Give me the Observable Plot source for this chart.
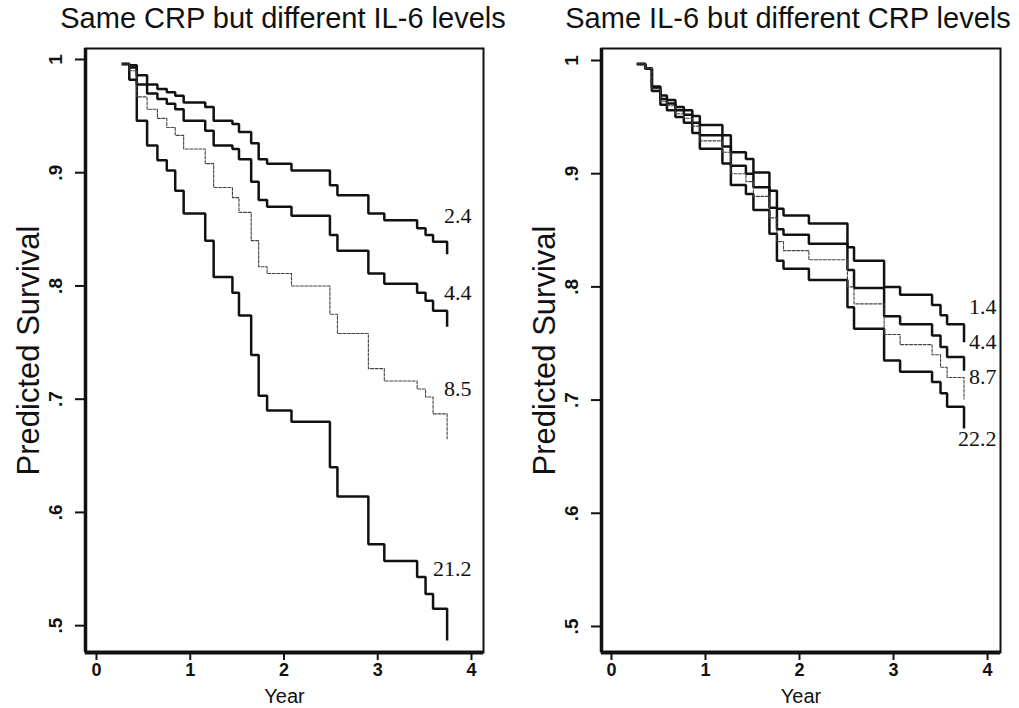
<!DOCTYPE html>
<html><head><meta charset="utf-8">
<script src="https://cdn.jsdelivr.net/npm/d3@7"></script>
<script src="https://cdn.jsdelivr.net/npm/@observablehq/plot@0.6"></script>
<style>
html,body{margin:0;padding:0;background:#fff;}
#wrap{position:relative;width:1019px;height:708px;overflow:hidden;background:#fff;font-family:"Liberation Sans",Arial,sans-serif;}
.title{position:absolute;top:0;font-size:29px;line-height:36px;white-space:nowrap;transform:translateX(-50%);color:#111;}
.panel{position:absolute;top:36px;}
</style></head><body>
<div id="wrap">
  <div class="title" id="t1" style="left:283px"></div>
  <div class="title" id="t2" style="left:788px"></div>
  <div class="panel" id="p1" style="left:0px"></div>
  <div class="panel" id="p2" style="left:510px"></div>
</div>
<script>
// ---- data ----
const leftTitle = "Same CRP but different IL-6 levels";
const rightTitle = "Same IL-6 but different CRP levels";
const xLabel = "Year";
const yLabel = "Predicted Survival";
const xTicks = [0, 1, 2, 3, 4];
const yTicks = [0.5, 0.6, 0.7, 0.8, 0.9, 1];
const yTickLabels = [".5", ".6", ".7", ".8", ".9", "1"];

// left panel: same CRP, IL-6 levels
const leftTimes = [0.27, 0.35, 0.43, 0.54, 0.65, 0.75, 0.84, 0.93, 1.16, 1.25, 1.45, 1.52, 1.65, 1.73, 1.82, 2.08, 2.49, 2.57, 2.90, 3.07, 3.42, 3.51, 3.59, 3.74];
const il6_24  = [0.996, 0.995, 0.986, 0.978, 0.974, 0.971, 0.968, 0.962, 0.958, 0.946, 0.943, 0.936, 0.926, 0.912, 0.908, 0.902, 0.889, 0.880, 0.864, 0.858, 0.851, 0.845, 0.839, 0.828];
const il6_44  = [0.996, 0.993, 0.978, 0.970, 0.965, 0.961, 0.956, 0.946, 0.937, 0.924, 0.921, 0.912, 0.892, 0.876, 0.870, 0.862, 0.845, 0.831, 0.811, 0.802, 0.794, 0.787, 0.778, 0.764];
const il6_85  = [0.996, 0.990, 0.967, 0.956, 0.948, 0.940, 0.933, 0.921, 0.908, 0.887, 0.878, 0.865, 0.840, 0.817, 0.811, 0.800, 0.775, 0.758, 0.727, 0.716, 0.709, 0.702, 0.687, 0.665];
const il6_212 = [0.996, 0.982, 0.946, 0.924, 0.911, 0.902, 0.884, 0.864, 0.840, 0.808, 0.794, 0.774, 0.739, 0.703, 0.690, 0.680, 0.640, 0.614, 0.572, 0.557, 0.543, 0.528, 0.515, 0.487];
const leftLabels = ["2.4", "4.4", "8.5", "21.2"];

// right panel: same IL-6, CRP levels
const rightTimes = [0.27, 0.36, 0.43, 0.52, 0.59, 0.68, 0.77, 0.86, 0.94, 1.18, 1.27, 1.43, 1.51, 1.68, 1.76, 1.83, 2.10, 2.51, 2.58, 2.90, 3.07, 3.41, 3.50, 3.57, 3.75];
const crp_14  = [0.997, 0.993, 0.977, 0.969, 0.965, 0.959, 0.956, 0.951, 0.943, 0.934, 0.919, 0.913, 0.901, 0.885, 0.869, 0.863, 0.856, 0.835, 0.823, 0.800, 0.793, 0.784, 0.775, 0.767, 0.751];
const crp_44  = [0.997, 0.993, 0.976, 0.966, 0.962, 0.956, 0.952, 0.945, 0.934, 0.924, 0.907, 0.900, 0.888, 0.870, 0.851, 0.846, 0.838, 0.815, 0.799, 0.774, 0.767, 0.757, 0.747, 0.738, 0.726];
const crp_87  = [0.997, 0.993, 0.975, 0.964, 0.960, 0.953, 0.949, 0.942, 0.929, 0.919, 0.900, 0.893, 0.880, 0.861, 0.840, 0.832, 0.824, 0.800, 0.785, 0.758, 0.749, 0.740, 0.729, 0.720, 0.701];
const crp_222 = [0.997, 0.993, 0.973, 0.961, 0.956, 0.950, 0.945, 0.936, 0.922, 0.909, 0.890, 0.882, 0.868, 0.847, 0.823, 0.816, 0.806, 0.782, 0.763, 0.735, 0.725, 0.716, 0.706, 0.694, 0.675];
const rightLabels = ["1.4", "4.4", "8.7", "22.2"];

// ---- drawing ----
const sans = "Liberation Sans, Arial, Helvetica, sans-serif";
function panel(o) {
  const rows = [];
  o.series.forEach((vals, k) => vals.forEach((v, i) => rows.push({t: o.times[i], s: v, key: o.labels[k], thin: o.thin[k]})));
  const ends = o.series.map((vals, k) => ({key: o.labels[k], s: vals[vals.length - 2]}));
  return Plot.plot({
    width: o.width, height: 672,
    marginLeft: o.ml, marginRight: o.mr, marginTop: 12, marginBottom: 56,
    x: {domain: o.xDomain},
    y: {domain: o.yDomain},
    style: {fontFamily: sans, color: "#111", background: "transparent"},
    marks: [
      Plot.line(rows.filter(d => !d.thin), {x: "t", y: "s", z: "key", curve: "step-after", stroke: "#111", strokeWidth: 2.5, strokeLinejoin: "miter", strokeLinecap: "butt"}),
      Plot.line(rows.filter(d => d.thin), {x: "t", y: "s", z: "key", curve: "step-after", stroke: "#444", strokeWidth: 1.1, strokeDasharray: "3 1.5"}),
      ...ends.map((e, i) => Plot.text([e], {y: "s", text: "key", frameAnchor: "right", textAnchor: "end", lineAnchor: "middle", dx: o.labelDx, dy: o.labelDy[i], fontFamily: "Liberation Serif, Times New Roman, serif", fontSize: 22, fill: "#111"})),
      Plot.frame({stroke: "#111", strokeWidth: 2}),
      Plot.ruleX([o.xDomain[0]], {stroke: "#111", strokeWidth: 3.5}),
      Plot.ruleY([o.yDomain[0]], {stroke: "#111", strokeWidth: 4}),
      Plot.axisX({ticks: xTicks, tickSize: 8, tickPadding: 3, tickFormat: d => String(d), fontSize: 18, fontWeight: "bold", strokeWidth: 2, label: null}),
      Plot.axisY({ticks: yTicks, tickSize: 10, tickFormat: () => "", strokeWidth: 2, label: null}),
      Plot.text(yTicks, {y: d => d, text: (d, i) => yTickLabels[i], frameAnchor: "left", dx: -30, rotate: -90, textAnchor: "middle", lineAnchor: "middle", fontSize: 19, fontWeight: "bold", fill: "#111"}),
      Plot.text([xLabel], {text: d => d, frameAnchor: "bottom", dy: 44.5, textAnchor: "middle", lineAnchor: "middle", fontSize: 20, fill: "#111"}),
      Plot.text([yLabel], {text: d => d, frameAnchor: "left", dx: -56, rotate: -90, textAnchor: "middle", lineAnchor: "middle", fontSize: 31, fill: "#111"})
    ]
  });
}

document.getElementById("t1").textContent = leftTitle;
document.getElementById("t2").textContent = rightTitle;

document.getElementById("p1").appendChild(panel({
  width: 510, ml: 85, mr: 27,
  xDomain: [-0.117, 4.128], yDomain: [0.4763, 1.0097],
  times: leftTimes, series: [il6_24, il6_44, il6_85, il6_212],
  labels: leftLabels, thin: [false, false, true, false],
  labelDx: -12, labelDy: [-26, -18, -25, -40]
}));
document.getElementById("p2").appendChild(panel({
  width: 509, ml: 91, mr: 19,
  xDomain: [-0.106, 4.138], yDomain: [0.477, 1.0106],
  times: rightTimes, series: [crp_14, crp_44, crp_87, crp_222],
  labels: rightLabels, thin: [false, false, true, false],
  labelDx: -4, labelDy: [-17, -15, 0, 32]
}));
</script>
</body></html>
